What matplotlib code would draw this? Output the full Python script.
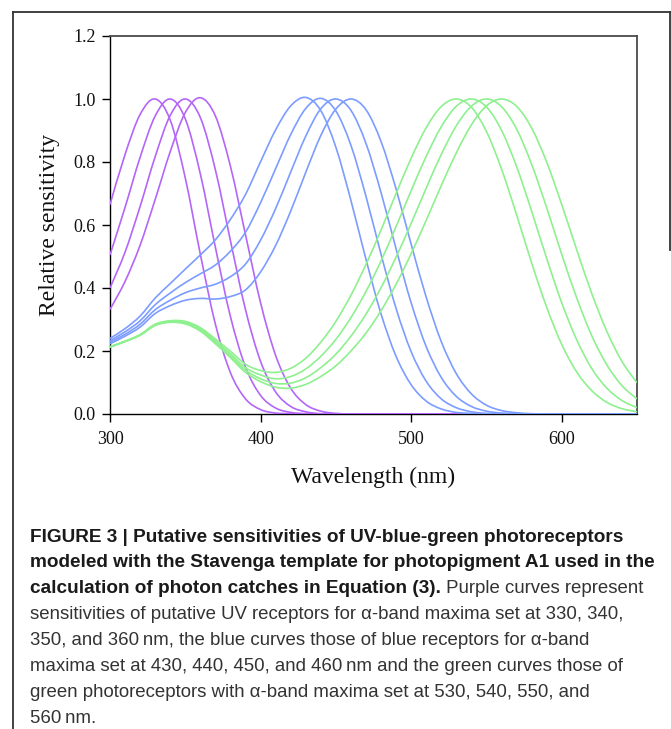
import numpy as np
import matplotlib
matplotlib.use("Agg")
import matplotlib.pyplot as plt
from matplotlib.path import Path
from matplotlib.patches import PathPatch
from matplotlib.lines import Line2D

# ---------------- data ----------------
wavelength = list(range(300, 651, 10))

uv_330 = [0.665, 0.824, 0.951, 1.000, 0.933, 0.749, 0.507, 0.285, 0.131, 0.048, 0.014, 0.003, 0.001] + [0.0] * 23
uv_340 = [0.505, 0.656, 0.815, 0.946, 1.000, 0.937, 0.762, 0.529, 0.309, 0.149, 0.059, 0.019, 0.005, 0.001] + [0.0] * 22
uv_350 = [0.400, 0.514, 0.659, 0.817, 0.948, 1.000, 0.941, 0.775, 0.550, 0.331, 0.167, 0.070, 0.024, 0.007, 0.001] + [0.0] * 21
uv_360 = [0.332, 0.421, 0.536, 0.681, 0.833, 0.957, 1.004, 0.946, 0.786, 0.569, 0.353, 0.186, 0.082, 0.030, 0.009, 0.002] + [0.0] * 20

blue_430 = [0.240, 0.271, 0.311, 0.368, 0.414, 0.460, 0.505, 0.553, 0.618, 0.697, 0.801, 0.902, 0.978, 1.005,
            0.963, 0.847, 0.678, 0.491, 0.318, 0.183, 0.093, 0.041, 0.016, 0.005, 0.002] + [0.0] * 11
blue_440 = [0.233, 0.261, 0.296, 0.347, 0.384, 0.417, 0.445, 0.473, 0.517, 0.577, 0.671, 0.779, 0.887, 0.970,
            1.002, 0.962, 0.853, 0.691, 0.507, 0.335, 0.198, 0.104, 0.048, 0.020, 0.007, 0.002, 0.001] + [0.0] * 9
blue_450 = [0.228, 0.253, 0.285, 0.331, 0.361, 0.385, 0.400, 0.412, 0.436, 0.476, 0.552, 0.652, 0.768, 0.882,
            0.969, 1.000, 0.964, 0.859, 0.703, 0.524, 0.353, 0.214, 0.116, 0.056, 0.024, 0.009, 0.003, 0.001] + [0.0] * 8
blue_460 = [0.223, 0.247, 0.276, 0.319, 0.344, 0.361, 0.367, 0.365, 0.373, 0.394, 0.451, 0.535, 0.644, 0.767,
            0.884, 0.968, 1.000, 0.966, 0.865, 0.714, 0.539, 0.371, 0.230, 0.128, 0.064, 0.028, 0.011, 0.004,
            0.001] + [0.0] * 7

green_530 = [0.213, 0.231, 0.252, 0.285, 0.296, 0.294, 0.274, 0.238, 0.199, 0.158, 0.138, 0.132, 0.145, 0.177,
             0.228, 0.294, 0.377, 0.475, 0.584, 0.700, 0.812, 0.909, 0.976, 1.000, 0.974, 0.897, 0.778, 0.633,
             0.480, 0.339, 0.221, 0.133, 0.074, 0.037, 0.017, 0.007]
green_540 = [0.213, 0.231, 0.251, 0.283, 0.294, 0.290, 0.270, 0.232, 0.191, 0.147, 0.124, 0.112, 0.119, 0.143,
             0.183, 0.237, 0.306, 0.389, 0.486, 0.595, 0.709, 0.818, 0.912, 0.977, 1.000, 0.975, 0.901, 0.786,
             0.644, 0.494, 0.353, 0.235, 0.144, 0.082, 0.043, 0.020]
green_550 = [0.213, 0.230, 0.251, 0.282, 0.292, 0.288, 0.266, 0.227, 0.184, 0.139, 0.112, 0.097, 0.098, 0.115,
             0.147, 0.190, 0.247, 0.317, 0.401, 0.498, 0.605, 0.717, 0.824, 0.915, 0.977, 1.000, 0.976, 0.905,
             0.793, 0.655, 0.507, 0.368, 0.248, 0.156, 0.090, 0.048]
green_560 = [0.213, 0.230, 0.250, 0.281, 0.291, 0.286, 0.263, 0.223, 0.179, 0.132, 0.103, 0.085, 0.082, 0.094,
             0.119, 0.153, 0.200, 0.257, 0.328, 0.412, 0.509, 0.615, 0.725, 0.829, 0.918, 0.978, 1.000, 0.977,
             0.908, 0.800, 0.665, 0.521, 0.382, 0.262, 0.167, 0.099]

x_ticks = [300, 400, 500, 600]
y_ticks = [0.0, 0.2, 0.4, 0.6, 0.8, 1.0, 1.2]

caption_bold = [
    "FIGURE 3 | Putative sensitivities of UV-blue-green photoreceptors",
    "modeled with the Stavenga template for photopigment A1 used in the",
    "calculation of photon catches in Equation (3).",
]
caption_regular_tail = " Purple curves represent"
caption_regular = [
    "sensitivities of putative UV receptors for \u03b1-band maxima set at 330, 340,",
    "350, and 360\u2009nm, the blue curves those of blue receptors for \u03b1-band",
    "maxima set at 430, 440, 450, and 460\u2009nm and the green curves those of",
    "green photoreceptors with \u03b1-band maxima set at 530, 540, 550, and",
    "560\u2009nm.",
]

PURPLE = "#b466f8"
BLUE = "#7c9cff"
GREEN = "#8ef08e"

W, H = 671, 729
fig = plt.figure(figsize=(W / 100, H / 100), dpi=100)
fig.patch.set_facecolor("white")

ax = fig.add_axes([110 / W, (H - 414) / H, 527 / W, 378 / H])


def smooth_path(xs, ys):
    pts = np.column_stack([np.asarray(xs, float), np.asarray(ys, float)])
    n = len(pts)
    verts = [pts[0]]
    codes = [Path.MOVETO]
    for i in range(n - 1):
        p0 = pts[i - 1] if i > 0 else pts[i]
        p1 = pts[i]
        p2 = pts[i + 1]
        p3 = pts[i + 2] if i + 2 < n else pts[i + 1]
        verts += [p1 + (p2 - p0) / 6.0, p2 - (p3 - p1) / 6.0, p2]
        codes += [Path.CURVE4] * 3
    return Path(verts, codes)


for series, col in [(uv_330, PURPLE), (uv_340, PURPLE), (uv_350, PURPLE), (uv_360, PURPLE),
                    (blue_430, BLUE), (blue_440, BLUE), (blue_450, BLUE), (blue_460, BLUE),
                    (green_530, GREEN), (green_540, GREEN), (green_550, GREEN), (green_560, GREEN)]:
    patch = PathPatch(smooth_path(wavelength, series), facecolor="none", edgecolor=col,
                      linewidth=1.2, zorder=3)
    ax.add_patch(patch)

ax.set_xlim(300, 650)
ax.set_ylim(0, 1.2)
ax.set_xticks(x_ticks)
ax.set_yticks(y_ticks)
ax.set_xticklabels([str(v) for v in x_ticks])
ax.set_yticklabels([f"{v:.1f}" for v in y_ticks])

for s in ["left", "bottom"]:
    ax.spines[s].set_color("black")
    ax.spines[s].set_linewidth(1.0)
for s in ["top", "right"]:
    ax.spines[s].set_color("#4a4a4a")
    ax.spines[s].set_linewidth(1.3)

ax.tick_params(axis="both", direction="out", length=5.5, width=1.0, colors="black",
               labelsize=13, top=False, right=False)
ax.tick_params(axis="x", pad=7)
ax.tick_params(axis="y", pad=5)
for lab in ax.get_xticklabels() + ax.get_yticklabels():
    lab.set_family("Liberation Serif")
    lab.set_color("#111111")

ax.set_xlabel("Wavelength (nm)", family="Liberation Serif", fontsize=17, color="#111111", labelpad=13)
ax.set_ylabel("Relative sensitivity", family="Liberation Serif", fontsize=17, color="#111111", labelpad=9)

# outer frame
frame_kw = dict(color="#333333", linewidth=1.3, transform=None)
fig.add_artist(Line2D([12.7, 669.5], [H - 12, H - 12], **frame_kw))
fig.add_artist(Line2D([12.7, 12.7], [H - 12, 0], **frame_kw))
fig.add_artist(Line2D([669.5, 669.5], [H - 12, H - 250], **frame_kw))

# caption (font size fitted so the line widths match the reference)
cap_family = ["Liberation Sans", "DejaVu Sans"]
x0 = 30 / W
y_first = 537
dy = 25.9
renderer = fig.canvas.get_renderer()


def fitted_size(text, weight, target_px):
    probe = fig.text(0, 0, text, family=cap_family, fontsize=10, fontweight=weight)
    w = probe.get_window_extent(renderer=renderer).width
    probe.remove()
    return 10 * target_px / w


bold_size = fitted_size(caption_bold[1], "bold", 655 - 30)
reg_size = fitted_size(caption_regular[2], "normal", 628 - 30)

for i, line in enumerate(caption_bold):
    t = fig.text(x0, 1 - (y_first + i * dy) / H, line, family=cap_family, fontsize=bold_size,
                 fontweight="bold", color="#1a1a1a", va="center", ha="left")
    if i == 2:
        bb = t.get_window_extent(renderer=renderer)
        fig.text(bb.x1 / W, 1 - (y_first + i * dy) / H, caption_regular_tail, family=cap_family,
                 fontsize=reg_size, color="#333333", va="center", ha="left")
for j, line in enumerate(caption_regular):
    i = j + 3
    fig.text(x0, 1 - (y_first + i * dy) / H, line, family=cap_family, fontsize=reg_size,
             color="#333333", va="center", ha="left")

fig.savefig("out.png", dpi=100, facecolor="white")
